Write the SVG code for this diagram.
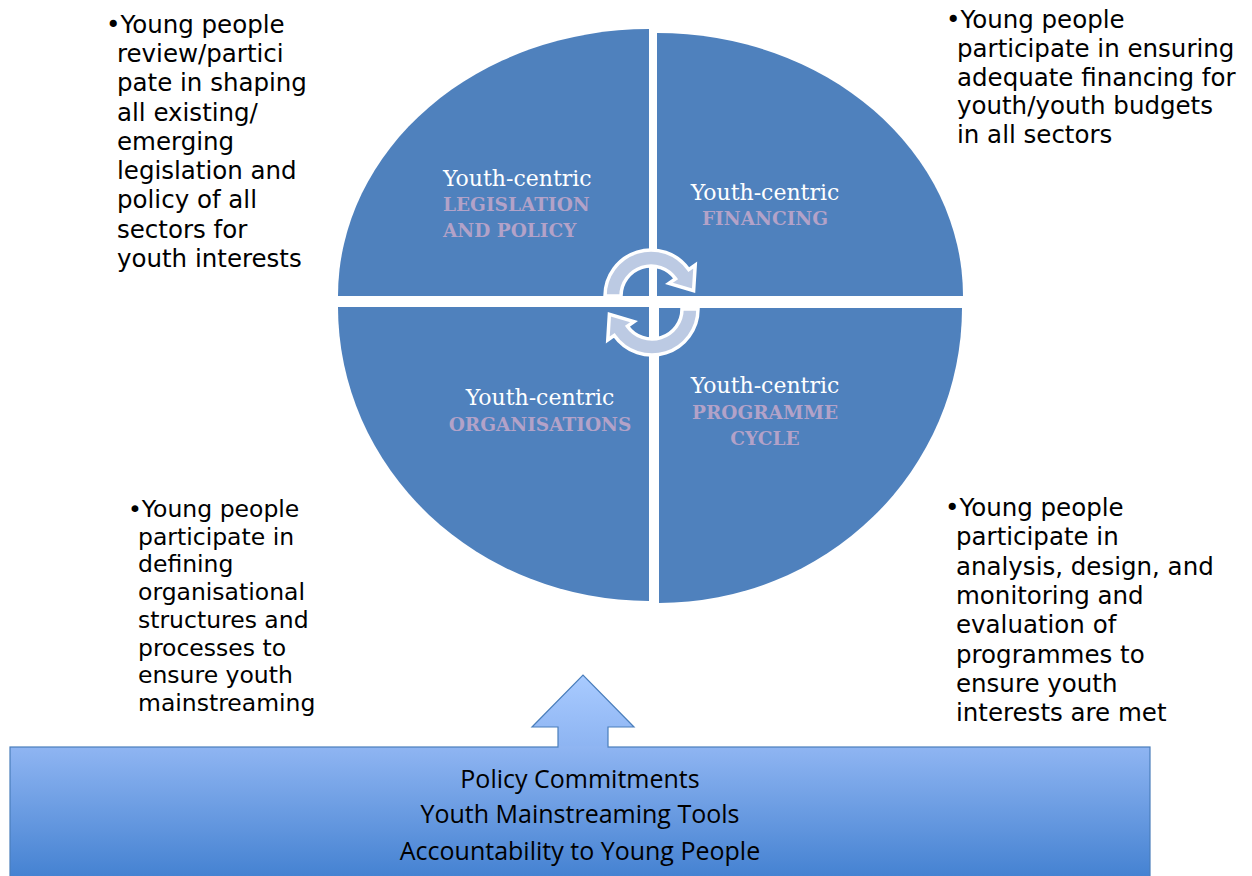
<svg xmlns="http://www.w3.org/2000/svg" width="1252" height="876" viewBox="0 0 1252 876">
<defs>
<linearGradient id="boxg" x1="0" y1="0" x2="0" y2="1">
<stop offset="0" stop-color="#8FB5F2"/>
<stop offset="1" stop-color="#3F7ECF"/>
</linearGradient>
<linearGradient id="arrg" x1="0" y1="0" x2="0" y2="1">
<stop offset="0" stop-color="#A9CBFF"/>
<stop offset="1" stop-color="#8DB4F2"/>
</linearGradient>
<style>
.q{fill:#4F81BD;}
.yc{font-family:"DejaVu Serif",serif;font-size:22px;fill:#FFFFFF;}
.cap{font-family:"DejaVu Serif",serif;font-size:18.5px;font-weight:bold;fill:#B3A2C8;}
.bt{font-family:"DejaVu Sans",sans-serif;font-size:24.5px;fill:#000000;}
.bt2{font-family:"DejaVu Sans",sans-serif;font-size:23.5px;fill:#000000;}
.cyc{fill:#BCCAE3;stroke:#FFFFFF;stroke-width:3.5;stroke-linejoin:miter;}
.box{font-family:"Open Sans",sans-serif;font-size:25px;fill:#000000;}
</style>
</defs>
<g id="quadrant-legislation">
<path class="q" d="M649,296 L338,296 A311,267 0 0 1 649,29 Z"/>
<text class="yc" x="443" y="186">Youth-centric</text>
<text class="cap" x="443" y="211">LEGISLATION</text>
<text class="cap" x="443" y="237">AND POLICY</text>
</g>
<g id="quadrant-financing">
<path class="q" d="M657,296 L657,33 A306,263 0 0 1 963,296 Z"/>
<text class="yc" x="765" y="200" text-anchor="middle">Youth-centric</text>
<text class="cap" x="765" y="225" text-anchor="middle">FINANCING</text>
</g>
<g id="quadrant-programme">
<path class="q" d="M659,308 L962,308 A303,295 0 0 1 659,603 Z"/>
<text class="yc" x="765" y="393" text-anchor="middle">Youth-centric</text>
<text class="cap" x="765" y="419" text-anchor="middle">PROGRAMME</text>
<text class="cap" x="765" y="445" text-anchor="middle">CYCLE</text>
</g>
<g id="quadrant-organisations">
<path class="q" d="M649,307 L649,601 A311,294 0 0 1 338,307 Z"/>
<text class="yc" x="540" y="405" text-anchor="middle">Youth-centric</text>
<text class="cap" x="540" y="431" text-anchor="middle">ORGANISATIONS</text>
</g>
<g id="connectors">
<path class="cyc" d="M605,296 A46,46 0 0 1 688.7,269.6 L695.2,265 L693.6,290.6 L669,283.4 L675.6,278.8 A30,30 0 0 0 621,296 Z"/>
<path class="cyc" d="M698,309 A46,46 0 0 1 614.3,335.4 L607.8,340 L609.4,314.4 L634,321.6 L627.4,326.2 A30,30 0 0 0 682,309 Z"/>
<path d="M558,747 L558,727 L532,727 L583,675 L634,727 L608,727 L608,747" fill="url(#arrg)" stroke="#4A7EBB" stroke-width="1.2"/>
</g>
<g id="note-legislation">
<text class="bt" x="106" y="33">•Young people</text>
<text class="bt" x="117" y="62">review/partici</text>
<text class="bt" x="117" y="91">pate in shaping</text>
<text class="bt" x="117" y="121">all existing/</text>
<text class="bt" x="117" y="150">emerging</text>
<text class="bt" x="117" y="179">legislation and</text>
<text class="bt" x="117" y="208">policy of all</text>
<text class="bt" x="117" y="238">sectors for</text>
<text class="bt" x="117" y="267">youth interests</text>
</g>
<g id="note-financing">
<text class="bt" x="946" y="28">•Young people</text>
<text class="bt" x="957" y="57">participate in ensuring</text>
<text class="bt" x="957" y="86">adequate financing for</text>
<text class="bt" x="957" y="114">youth/youth budgets</text>
<text class="bt" x="957" y="143">in all sectors</text>
</g>
<g id="note-organisations">
<text class="bt2" x="128" y="517">•Young people</text>
<text class="bt2" x="138" y="544.7">participate in</text>
<text class="bt2" x="138" y="572.4">defining</text>
<text class="bt2" x="138" y="600.1">organisational</text>
<text class="bt2" x="138" y="627.8">structures and</text>
<text class="bt2" x="138" y="655.5">processes to</text>
<text class="bt2" x="138" y="683.2">ensure youth</text>
<text class="bt2" x="138" y="710.9">mainstreaming</text>
</g>
<g id="note-programme">
<text class="bt" x="945" y="516">•Young people</text>
<text class="bt" x="956" y="545.3">participate in</text>
<text class="bt" x="956" y="574.6">analysis, design, and</text>
<text class="bt" x="956" y="603.9">monitoring and</text>
<text class="bt" x="956" y="633.2">evaluation of</text>
<text class="bt" x="956" y="662.5">programmes to</text>
<text class="bt" x="956" y="691.8">ensure youth</text>
<text class="bt" x="956" y="721.1">interests are met</text>
</g>
<g id="foundation">
<path d="M10,880 L10,747 L558,747 M608,747 L1150,747 L1150,880" fill="none" stroke="none"/>
<rect x="10" y="747" width="1140" height="140" fill="url(#boxg)" stroke="#4A7EBB" stroke-width="1.2"/>
<rect x="558.6" y="746" width="48.8" height="2" fill="#8FB5F2"/>
<text class="box" x="580" y="788" text-anchor="middle">Policy Commitments</text>
<text class="box" x="580" y="823" text-anchor="middle">Youth Mainstreaming Tools</text>
<text class="box" x="580" y="860" text-anchor="middle">Accountability to Young People</text>
</g>
</svg>
